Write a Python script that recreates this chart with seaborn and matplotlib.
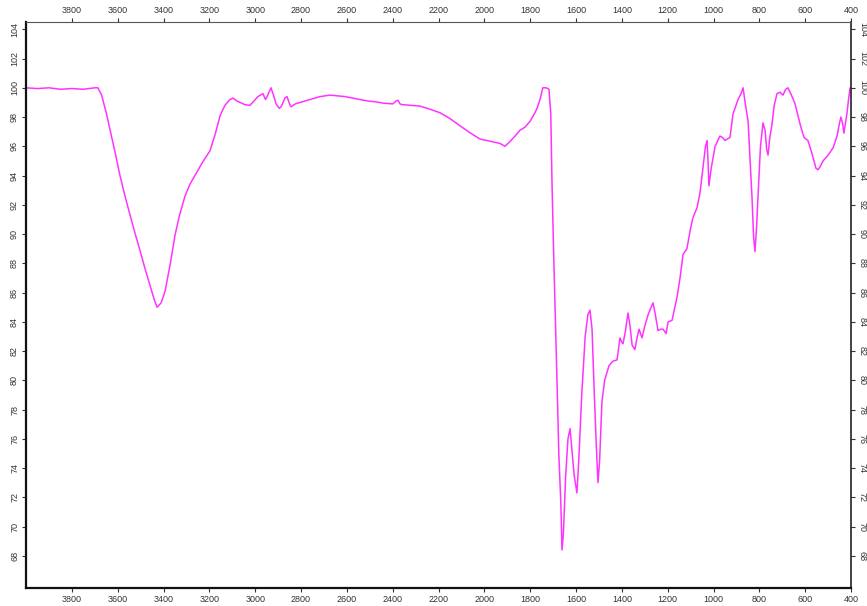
import matplotlib
matplotlib.use("Agg")
import matplotlib.pyplot as plt
import seaborn as sns
import pandas as pd

wavenumber = [4000, 3950, 3900, 3850, 3800, 3750, 3700, 3686, 3670, 3650, 3633, 3610, 3590, 3568, 3546, 3525,
              3503, 3480, 3459, 3440, 3428, 3410, 3393, 3370, 3350, 3330, 3306, 3285, 3263, 3230, 3197, 3175,
              3153, 3132, 3110, 3097, 3080, 3066, 3045, 3023, 3005, 2988, 2966, 2955, 2948, 2931, 2920, 2909,
              2895, 2887, 2870, 2861, 2850, 2844, 2825, 2804, 2760, 2717, 2673, 2640, 2608, 2575, 2542, 2510,
              2477, 2440, 2399, 2385, 2377, 2368, 2359, 2320, 2281, 2240, 2194, 2150, 2106, 2060, 2019, 1975,
              1932, 1910, 1890, 1866, 1845, 1823, 1801, 1779, 1770, 1757, 1745, 1730, 1718, 1710, 1705, 1698,
              1692, 1683, 1675, 1666, 1661, 1655, 1645, 1635, 1626, 1618, 1608, 1596, 1588, 1575, 1560, 1548,
              1539, 1530, 1520, 1510, 1504, 1497, 1487, 1475, 1456, 1440, 1421, 1408, 1400, 1395, 1385, 1373,
              1365, 1355, 1343, 1335, 1325, 1312, 1300, 1285, 1264, 1255, 1242, 1230, 1220, 1207, 1198, 1181,
              1170, 1159, 1146, 1133, 1116, 1100, 1090, 1072, 1059, 1046, 1035, 1028, 1024, 1020, 1010, 993,
              972, 960, 950, 940, 928, 915, 893, 880, 871, 862, 849, 840, 832, 825, 819, 812, 806, 795, 784,
              775, 768, 762, 755, 745, 735, 723, 710, 697, 685, 675, 660, 644, 622, 605, 588, 570, 553, 544,
              535, 522, 500, 478, 461, 450, 444, 437, 431, 425, 418, 410, 404, 400]
transmittance = [100.0, 99.95, 100.0, 99.9, 99.95, 99.9, 100.0, 100.0, 99.5, 98.3, 97.1, 95.5, 94.0, 92.6, 91.3, 90.1,
                 88.9, 87.6, 86.5, 85.5, 85.0, 85.3, 86.1, 88.0, 89.9, 91.3, 92.6, 93.4, 94.0, 94.9, 95.7, 96.8,
                 98.1, 98.8, 99.2, 99.3, 99.1, 99.0, 98.85, 98.8, 99.1, 99.4, 99.6, 99.2, 99.4, 100.0, 99.5, 98.9,
                 98.6, 98.7, 99.3, 99.4, 98.9, 98.7, 98.9, 99.0, 99.2, 99.4, 99.5, 99.45, 99.4, 99.3, 99.2, 99.1,
                 99.05, 98.95, 98.9, 99.1, 99.15, 98.9, 98.85, 98.8, 98.75, 98.55, 98.3, 97.9, 97.4, 96.9, 96.5, 96.35,
                 96.2, 96.0, 96.3, 96.7, 97.1, 97.3, 97.7, 98.3, 98.6, 99.2, 100.0, 100.0, 99.9, 98.2, 93.7, 89.0,
                 85.5, 80.0, 75.0, 71.5, 68.4, 69.5, 73.5, 76.0, 76.7, 75.3, 73.5, 72.3, 74.5, 79.0, 83.0, 84.5,
                 84.8, 83.5, 79.0, 75.0, 73.0, 74.5, 78.5, 80.0, 81.0, 81.3, 81.4, 82.9, 82.6, 82.5, 83.3, 84.6,
                 83.8, 82.4, 82.1, 82.8, 83.5, 82.9, 83.7, 84.5, 85.3, 84.6, 83.4, 83.5, 83.5, 83.2, 84.0, 84.1,
                 84.9, 85.7, 87.0, 88.6, 89.0, 90.4, 91.1, 91.8, 92.8, 94.5, 96.0, 96.4, 95.0, 93.3, 94.5, 96.0,
                 96.7, 96.6, 96.4, 96.5, 96.6, 98.2, 99.2, 99.6, 100.0, 99.0, 97.7, 95.0, 92.5, 89.8, 88.8, 90.5, 92.5, 96.0, 97.6,
                 97.1, 95.8, 95.4, 96.5, 97.5, 98.8, 99.6, 99.7, 99.5, 99.9, 100.0, 99.5, 98.9, 97.5, 96.6, 96.4, 95.5, 94.5, 94.4,
                 94.6, 95.0, 95.4, 95.9, 96.7, 97.6, 98.0, 97.6, 96.9, 97.5, 98.2, 99.3, 100.0, 100.0]

x_ticks = [3800, 3600, 3400, 3200, 3000, 2800, 2600, 2400, 2200, 2000, 1800, 1600, 1400, 1200, 1000, 800, 600, 400]
y_ticks = [104, 102, 100, 98, 96, 94, 92, 90, 88, 86, 84, 82, 80, 78, 76, 74, 72, 70, 68]

sns.set_style("white")
plt.rcParams['font.family'] = ['Liberation Sans', 'DejaVu Sans']

df = pd.DataFrame({"wn": wavenumber, "T": transmittance})

fig = plt.figure(figsize=(8.67, 6.06), dpi=100)
ax = fig.add_axes([26/867, 1-588/606, (851-26)/867, (588-22)/606])
sns.lineplot(data=df, x="wn", y="T", sort=False, estimator=None, color="#ff33ff", linewidth=1.1, ax=ax)

ax.set_xlim(4000, 400)
ax.set_ylim(65.8, 104.5)
ax.set_xticks(x_ticks)
ax.set_yticks(y_ticks)
ax.set_xlabel("")
ax.set_ylabel("")

ax.tick_params(axis='x', which='both', top=True, labeltop=True, bottom=True, labelbottom=True,
               direction='out', length=3, width=0.8, labelsize=6.5, colors='#333333', pad=2)
ax.tick_params(axis='y', which='both', left=True, labelleft=True, right=True, labelright=True,
               direction='out', length=3, width=0.8, labelsize=6.5, colors='#333333', pad=2)
for lab in ax.get_yticklabels():
    lab.set_rotation(90)
    lab.set_va('center')
for t in ax.yaxis.get_major_ticks():
    t.label2.set_rotation(270)
    t.label2.set_va('center')

for side in ['left', 'bottom']:
    ax.spines[side].set_linewidth(1.6)
    ax.spines[side].set_color('#111111')
ax.spines['top'].set_linewidth(0.8)
ax.spines['top'].set_color('#555555')
ax.spines['right'].set_linewidth(1.2)
ax.spines['right'].set_color('#222222')

fig.savefig("out.png", dpi=100)
